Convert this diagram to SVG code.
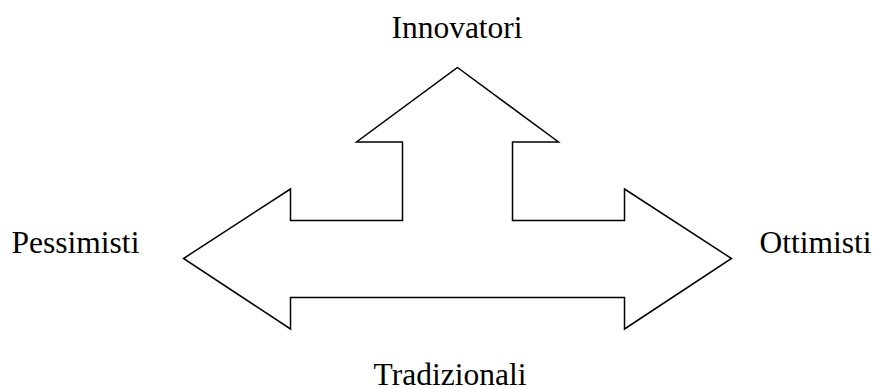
<svg xmlns="http://www.w3.org/2000/svg" width="873" height="388" viewBox="0 0 873 388">
<style>
.lbl{font-family:"Liberation Serif","Times New Roman",serif;font-size:31.5px;fill:#000;text-anchor:middle}
.shape{fill:#fff;stroke:#000;stroke-width:1.5;stroke-linejoin:miter}
</style>
<rect width="873" height="388" fill="#fff"/>
<g id="arrow">
<polygon class="shape" points="457.5,67.5 558.5,142 512.5,142 512.5,220.5 624.5,220.5 624.5,189 731.5,258.5 624.5,329 624.5,297.5 290.5,297.5 290.5,329 183.5,258.5 290.5,189 290.5,220.5 402.5,220.5 402.5,142 356.5,142"/>
</g>
<g id="innovatori"><text class="lbl" x="457" y="38">Innovatori</text></g>
<g id="pessimisti"><text class="lbl" x="75.5" y="253">Pessimisti</text></g>
<g id="ottimisti"><text class="lbl" x="815.5" y="253">Ottimisti</text></g>
<g id="tradizionali"><text class="lbl" x="450" y="385">Tradizionali</text></g>
</svg>
